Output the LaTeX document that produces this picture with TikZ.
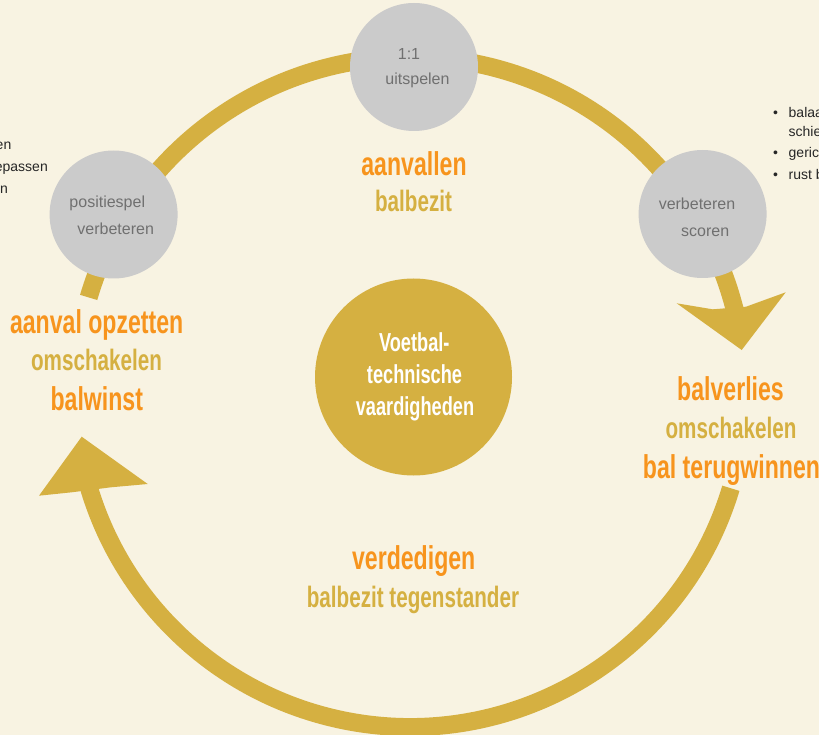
\documentclass[tikz,border=0pt]{standalone}
\usepackage{fontspec}
\setmainfont{Liberation Sans}
\newfontfamily\agency[FakeStretch=0.70]{Liberation Sans Bold}
\usetikzlibrary{calc}
\definecolor{bg}{HTML}{F8F3E2}
\definecolor{ring}{HTML}{D5B041}
\definecolor{orng}{HTML}{F7941D}
\definecolor{circgray}{HTML}{CBCBCB}
\definecolor{txtgray}{HTML}{707070}
\tikzset{
  ringline/.style={draw=ring, line width=18pt},
  headshape/.style={fill=ring, draw=none},
  gcirc/.style={circle, fill=circgray, minimum size=128pt, inner sep=0pt},
  gtxt/.style={anchor=base, inner sep=0pt, text=txtgray, font=\fontsize{16}{16}\selectfont},
  headtxt/.style={anchor=base, inner sep=0pt, text=orng, font=\agency\fontsize{33}{33}\selectfont},
  subtxt/.style={anchor=base, inner sep=0pt, text=ring, font=\agency\fontsize{29.5}{29.5}\selectfont},
  ctrtxt/.style={anchor=base, inner sep=0pt, text=white, font=\agency\fontsize{26}{26}\selectfont},
  btxt/.style={inner sep=0pt, text=black!85, font=\fontsize{14}{14}\selectfont},
}
\begin{document}
\begin{tikzpicture}[x=1pt,y=-1pt]
\clip (0,0) rectangle (819,735);
\fill[bg] (0,0) rectangle (819,735);
\coordinate (C) at (410,392);

% upper arc with arrow towards balverlies
\draw[ringline] ($(C)+(196.4:335)$) arc[start angle=196.4, end angle=348, radius=335];
\fill[headshape] (741.7,350) -- (785.7,292.3) -- (746,306.7) -- (712.7,309.3) -- (676.7,303.3) -- cycle;

% lower arc with arrow towards balwinst
\draw[ringline] ($(C)+(16.7:335)$) arc[start angle=16.7, end angle=166, radius=335];
\fill[headshape] (81.7,436.7) -- (39,495.7) -- (71.7,492.3) -- (111,487.3) -- (147.7,484) -- cycle;

% grey circles
\node[gcirc] (cpos) at (113.6,214.5) {};
\node[gcirc] (ctop) at (414,67) {};
\node[gcirc] (cscr) at (702.6,214) {};
\node[gtxt] (tpos1) at (107.3,208) {positiespel};
\node[gtxt] (tpos2) at (115.7,235) {verbeteren};
\node[gtxt] (ttop1) at (409,60) {1:1};
\node[gtxt] (ttop2) at (417.5,85) {uitspelen};
\node[gtxt] (tscr1) at (697,210) {verbeteren};
\node[gtxt] (tscr2) at (705.2,237) {scoren};

% centre
\node[circle, fill=ring, minimum size=197pt, inner sep=0pt] (core) at (413.5,377) {};
\node[ctrtxt] (core1) at (414.3,351.6) {Voetbal-};
\node[ctrtxt] (core2) at (414.5,383.5) {technische};
\node[ctrtxt] (core3) at (415,415) {vaardigheden};

% phase labels
\node[headtxt] (att1) at (414,175.8) {aanvallen};
\node[subtxt]  (att2) at (413.5,212) {balbezit};

\node[headtxt] (win1) at (96.7,333.8) {aanval opzetten};
\node[subtxt]  (win2) at (96.5,370.4) {omschakelen};
\node[headtxt] (win3) at (96.8,410.2) {balwinst};

\node[headtxt] (los1) at (730.5,400.8) {balverlies};
\node[subtxt]  (los2) at (731,438.3) {omschakelen};
\node[headtxt] (los3) at (731.5,478.2) {bal terugwinnen};

\node[headtxt] (def1) at (413.7,569.6) {verdedigen};
\node[subtxt]  (def2) at (413,607) {balbezit tegenstander};

% cut-off side texts
\node[btxt, anchor=base east] (l1) at (11.5,150) {en};
\node[btxt, anchor=base east] (l2) at (48,171.5) {epassen};
\node[btxt, anchor=base east] (l3) at (8,193.5) {n};

\node[btxt, anchor=base] (rb1) at (775.5,118) {•};
\node[btxt, anchor=base west] (r1) at (788.5,118) {balaa};
\node[btxt, anchor=base west] (r2) at (788.5,137) {schie};
\node[btxt, anchor=base] (rb3) at (775.5,158) {•};
\node[btxt, anchor=base west] (r3) at (788.5,158) {geric};
\node[btxt, anchor=base] (rb4) at (775.5,180) {•};
\node[btxt, anchor=base west] (r4) at (788.5,180) {rust b};
\end{tikzpicture}
\end{document}
